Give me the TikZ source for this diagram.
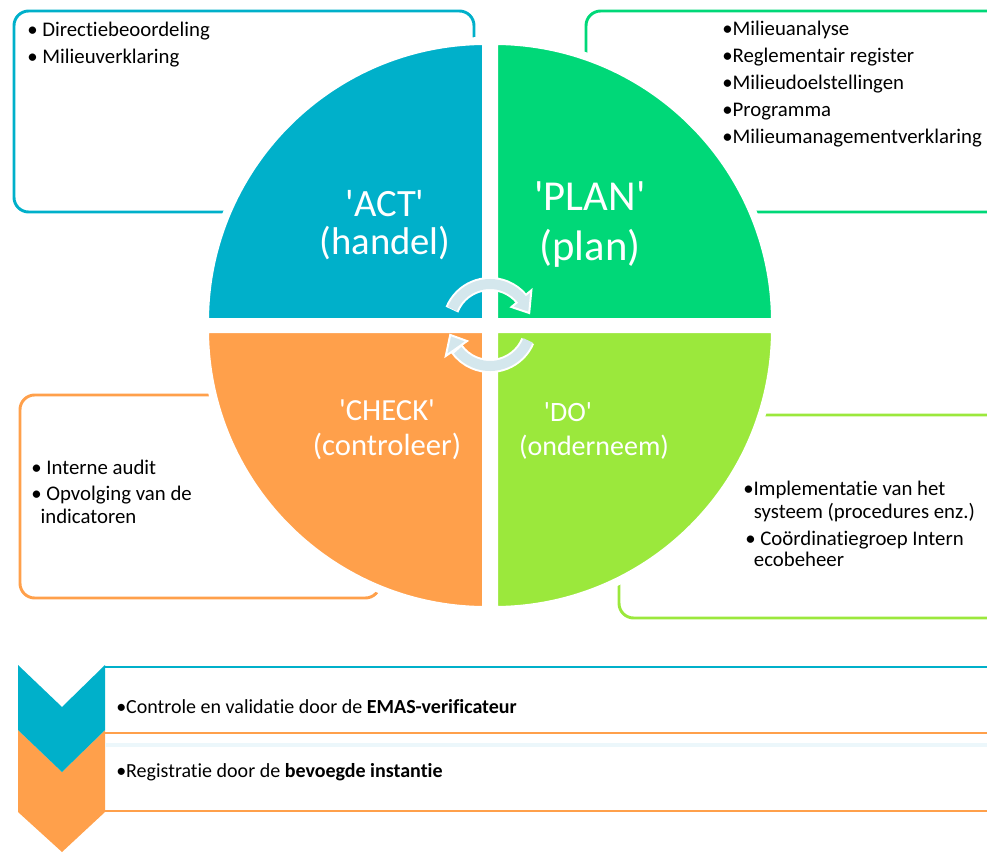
\documentclass[tikz,border=0pt]{standalone}
\usepackage{fontspec}
\setmainfont{Carlito}[Ligatures={TeXOff,NoCommon}]
\definecolor{actcol}{RGB}{0,176,202}
\definecolor{plancol}{RGB}{0,216,120}
\definecolor{checkcol}{RGB}{255,160,75}
\definecolor{docol}{RGB}{155,232,60}
\definecolor{cyclecol}{RGB}{212,231,237}
\definecolor{faintcol}{RGB}{236,247,251}
\begin{document}
\begin{tikzpicture}[x=0.75pt,y=0.75pt,yscale=-1,xscale=1,
  listbox/.style={line width=2.2pt, rounded corners=11pt},
  quarter/.style={draw=white, line width=6pt},
  listtext/.style={anchor=base west, inner sep=0pt, text=black, font=\fontsize{15.6}{20.25}\selectfont},
  steptext/.style={anchor=base west, inner sep=0pt, text=black, font=\fontsize{15}{20}\selectfont},
  phase/.style={inner sep=0pt, align=center, text=white}]
\clip (0,0) rectangle (987,852);

%Rounded Rect: list boxes behind the circle
\draw [listbox, draw=actcol] (14,11) rectangle (474,212);
\draw [listbox, draw=plancol] (586,11) rectangle (1010,212);
\draw [listbox, draw=checkcol] (20,395) rectangle (380,598);
\draw [listbox, draw=docol] (619,415) rectangle (1010,618);

%Shape: the four quarters
\draw [quarter, fill=actcol] (486,322) -- ++(180:281) arc (180:270:281) -- cycle;
\draw [quarter, fill=plancol] (494,322) -- ++(270:281) arc (270:360:281) -- cycle;
\draw [quarter, fill=checkcol] (486,329) -- ++(90:281) arc (90:180:281) -- cycle;
\draw [quarter, fill=docol] (494,329) -- ++(0:281) arc (0:90:281) -- cycle;

%Curve Lines: cycle arrows
\coordinate (hub) at (490,325);
\draw [white, line width=10.5pt] ([shift={(-158:41)}]hub) arc (-158:-40:41);
\filldraw [fill=cyclecol, draw=white, line width=1.5pt] ([shift={(-40:28)}]hub) -- ([shift={(-17:41)}]hub) -- ([shift={(-40:54)}]hub) -- cycle;
\draw [cyclecol, line width=7.5pt] ([shift={(-157:41)}]hub) arc (-157:-37:41);
\draw [white, line width=10.5pt] ([shift={(23:41)}]hub) arc (23:145:41);
\filldraw [fill=cyclecol, draw=white, line width=1.5pt] ([shift={(145:28)}]hub) -- ([shift={(166:41)}]hub) -- ([shift={(145:54)}]hub) -- cycle;
\draw [cyclecol, line width=7.5pt] ([shift={(22:41)}]hub) arc (22:142:41);

% Text Node
\node [phase, font=\fontsize{29}{29}\selectfont] (actlbl) at (385,225) {\textquotesingle ACT\textquotesingle\\(handel)};
% Text Node
\node [phase, font=\fontsize{32}{37.5}\selectfont] (planlbl) at (590,225) {\textquotesingle PLAN\textquotesingle\\(plan)};
% Text Node
\node [phase, font=\fontsize{23}{26}\selectfont] (checklbl) at (387,430) {\textquotesingle CHECK\textquotesingle\\(controleer)};
% Text Node
\node [phase, font=\fontsize{21}{21}\selectfont] (dolbl) at (568,412) {\textquotesingle DO\textquotesingle};
\node [phase, font=\fontsize{21}{21}\selectfont] (dosub) at (594,447) {(onderneem)};

% Text Node
\node [listtext] (actlist) at (27,37) {\begin{tabular}[t]{@{}l@{}}\textbullet\ Directiebeoordeling\\\textbullet\ Milieuverklaring\end{tabular}};
% Text Node
\node [listtext] (planlist) at (722,36) {\begin{tabular}[t]{@{}l@{}}\textbullet Milieuanalyse\\\textbullet Reglementair register\\\textbullet Milieudoelstellingen\\\textbullet Programma\\\textbullet Milieumanagementverklaring\end{tabular}};
% Text Node
\node [listtext] (checklist) at (31,474) {\begin{tabular}[t]{@{}l@{}}\textbullet\ Interne audit\\[-0.75pt]\textbullet\ Opvolging van de\\[-3pt]\hspace*{7pt}indicatoren\end{tabular}};
% Text Node
\node [listtext] (dolist) at (743,495) {\begin{tabular}[t]{@{}l@{}}\textbullet Implementatie van het\\[-3pt]\hspace*{8pt}systeem (procedures enz.)\\\hspace*{1.5pt}\textbullet\ Co\"ordinatiegroep Intern\\[-4.5pt]\hspace*{8pt}ecobeheer\end{tabular}};

%Shape: chevrons
\fill [checkcol] (18,730) -- (62,772) -- (105,730) -- (105,812) -- (62,852) -- (18,812) -- cycle;
\fill [actcol] (18,665) -- (62,707) -- (105,665) -- (105,730) -- (62,772) -- (18,730) -- cycle;

%Straight Lines: step separators
\draw [actcol, line width=2.2pt] (105,667) -- (987,667);
\draw [faintcol, line width=3pt] (105,745) -- (987,745);
\draw [checkcol, line width=2.2pt] (105,733) -- (987,733);
\draw [checkcol, line width=2.2pt] (105,811) -- (987,811);

% Text Node
\node [steptext] (verifstep) at (116,713) {\textbullet Controle en validatie door de \textbf{EMAS-verificateur}};
% Text Node
\node [steptext] (regstep) at (116,777) {\textbullet Registratie door de \textbf{bevoegde instantie}};
\end{tikzpicture}
\end{document}
